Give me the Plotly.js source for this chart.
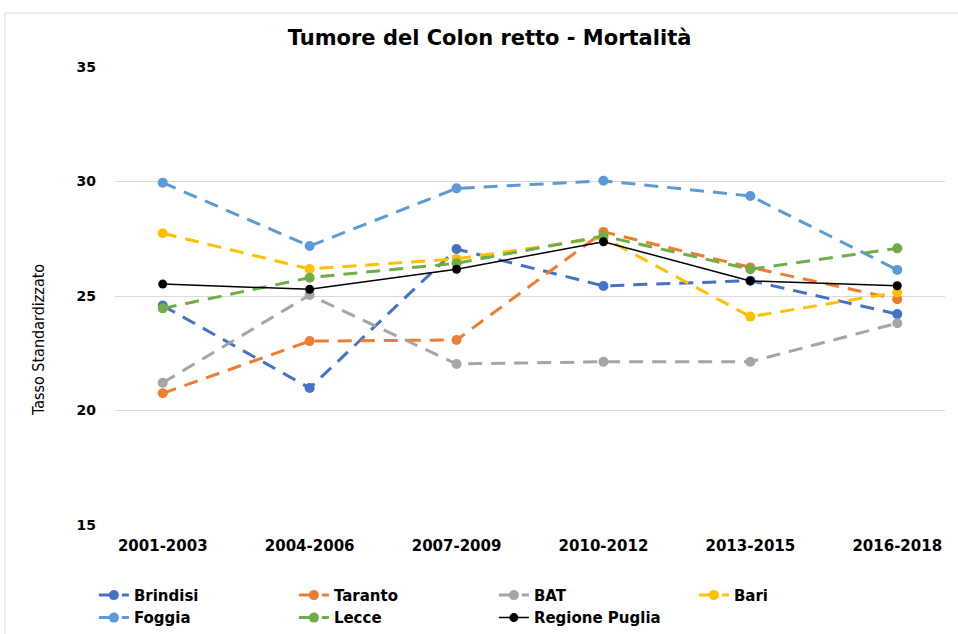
<!DOCTYPE html>
<html>
<head>
<meta charset="utf-8">
<script src="https://cdn.plot.ly/plotly-3.0.1.min.js"></script>
<style>html,body{margin:0;padding:0;background:#fff;}#chart{width:958px;height:634px;}</style>
</head>
<body>
<div id="chart"></div>
<script>
const periods = ["2001-2003","2004-2006","2007-2009","2010-2012","2013-2015","2016-2018"];
const brindisi = [24.58, 20.98, 27.05, 25.44, 25.67, 24.21];
const taranto  = [20.75, 23.03, 23.08, 27.80, 26.25, 24.86];
const bat      = [21.21, 25.04, 22.03, 22.13, 22.13, 23.81];
const bari     = [27.74, 26.18, 26.62, 27.55, 24.10, 25.16];
const foggia   = [29.95, 27.18, 29.70, 30.03, 29.37, 26.14];
const lecce    = [24.46, 25.80, 26.43, 27.62, 26.17, 27.08];
const puglia   = [25.52, 25.29, 26.17, 27.37, 25.66, 25.45];

const names  = ["Brindisi","Taranto","BAT","Bari","Foggia","Lecce","Regione Puglia"];
const colors = ["#4472C4","#ED7D31","#A5A5A5","#FFC000","#5B9BD5","#70AD47","#000000"];
const series = [brindisi, taranto, bat, bari, foggia, lecce, puglia];

const traces = series.map((ys, i) => {
  const solid = i === 6;
  return {
    type: "scatter",
    mode: "lines+markers",
    name: names[i],
    x: periods,
    y: ys,
    line: {color: colors[i], width: solid ? 1.5 : 3, dash: solid ? "solid" : "14px,9px"},
    marker: {color: colors[i], size: solid ? 9 : 10}
  };
});

const boldFont = "DejaVu Sans, Verdana, sans-serif";

const layout = {
  width: 958, height: 634,
  margin: {l: 115, r: 13, t: 67, b: 109},
  paper_bgcolor: "#fff", plot_bgcolor: "#fff",
  title: {text: "Tumore del Colon retto - Mortalità", x: 0.511, xanchor: "center", y: 0.94, yanchor: "middle",
          font: {family: boldFont, size: 21, weight: "bold", color: "#000"}},
  xaxis: {type: "category", showgrid: false, zeroline: false, showline: false, ticks: "", ticklabelstandoff: 10,
          tickfont: {family: boldFont, size: 15, weight: "bold", color: "#000"}},
  yaxis: {range: [15, 35], dtick: 5, showgrid: true, gridcolor: "#D9D9D9", gridwidth: 1, zeroline: false,
          showline: false, ticks: "", ticklabelstandoff: 18,
          tickfont: {family: boldFont, size: 14, weight: "bold", color: "#000"}},
  annotations: [{text: "Tasso Standardizzato", textangle: -90, showarrow: false,
                 xref: "paper", yref: "paper", x: (38-115)/830, y: (525-340)/458, xanchor: "center", yanchor: "middle",
                 font: {family: "Liberation Sans Narrow, DejaVu Sans Condensed, sans-serif", size: 16, color: "#000"}}],
  legend: {orientation: "h", xref: "container", x: 0.098, xanchor: "left", yref: "container", y: 0.087, yanchor: "top",
           entrywidth: 155, entrywidthmode: "pixels", tracegroupgap: 0,
           font: {family: boldFont, size: 15, weight: "bold", color: "#000"}},
  shapes: [{type: "rect", xref: "paper", yref: "paper", x0: (5-115)/830, x1: 2, y0: -1, y1: (525-13)/458,
            line: {color: "#D9D9D9", width: 1}, fillcolor: "rgba(0,0,0,0)"}],
  showlegend: true
};

Plotly.newPlot("chart", traces, layout, {displayModeBar: false, staticPlot: true});
</script>
</body>
</html>
